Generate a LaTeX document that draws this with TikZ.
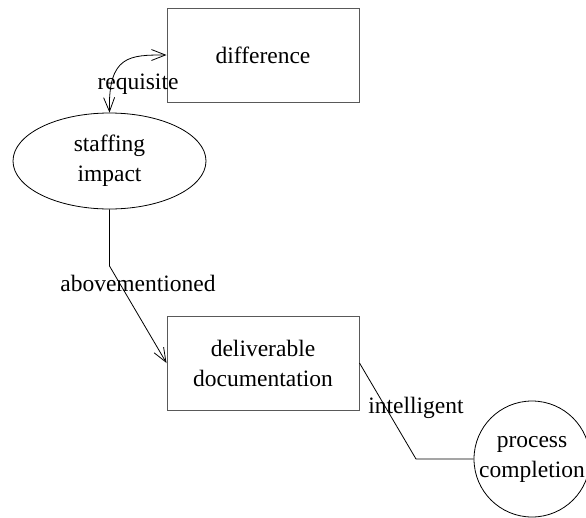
\documentclass[tikz,border=0pt]{standalone}
\usepackage{fontspec}
\setmainfont{Liberation Serif}
\usetikzlibrary{shapes.geometric,arrows.meta}
\begin{document}
\begin{tikzpicture}[x=1pt,y=-1pt,
 every node/.style={font=\fontsize{23.5}{30}\selectfont},
 boxnode/.style={draw=black!65, line width=1pt, minimum width=192pt, minimum height=94pt, inner sep=0pt, align=center},
 ellnode/.style={ellipse, draw, line width=0.8pt, minimum width=193pt, minimum height=96pt, inner sep=0pt, align=center},
 circnode/.style={circle, draw, line width=0.8pt, minimum size=116pt, inner sep=0pt, align=center},
 conn/.style={line width=0.8pt},
 barb/.tip={Straight Barb[length=14pt,width=11pt]},
 lbl/.style={inner sep=0pt}]
\useasboundingbox (0,0) rectangle (586,517);
\node[boxnode] (diff) at (263,55) {difference};
\node[ellnode] (staff) at (109.5,161) {staffing\\impact};
\node[boxnode] (deliv) at (263,363) {deliverable\\documentation};
\node[circnode] (proc) at (532,459) {process\\completion};
\draw[conn,barb-barb] (staff.north) .. controls (108,55) and (130,55) .. (diff.west);
\coordinate (b1) at (109.5,266);
\draw[conn,-barb] (staff.south) -- (b1) -- (deliv.west);
\coordinate (b2) at (416,459);
\draw[conn] (deliv.east) -- (b2) -- (proc.west);
\node[lbl] (l1) at (138,84) {requisite};
\node[lbl] (l2) at (138,283) {abovementioned};
\node[lbl] (l3) at (416,408) {intelligent};
\end{tikzpicture}
\end{document}
